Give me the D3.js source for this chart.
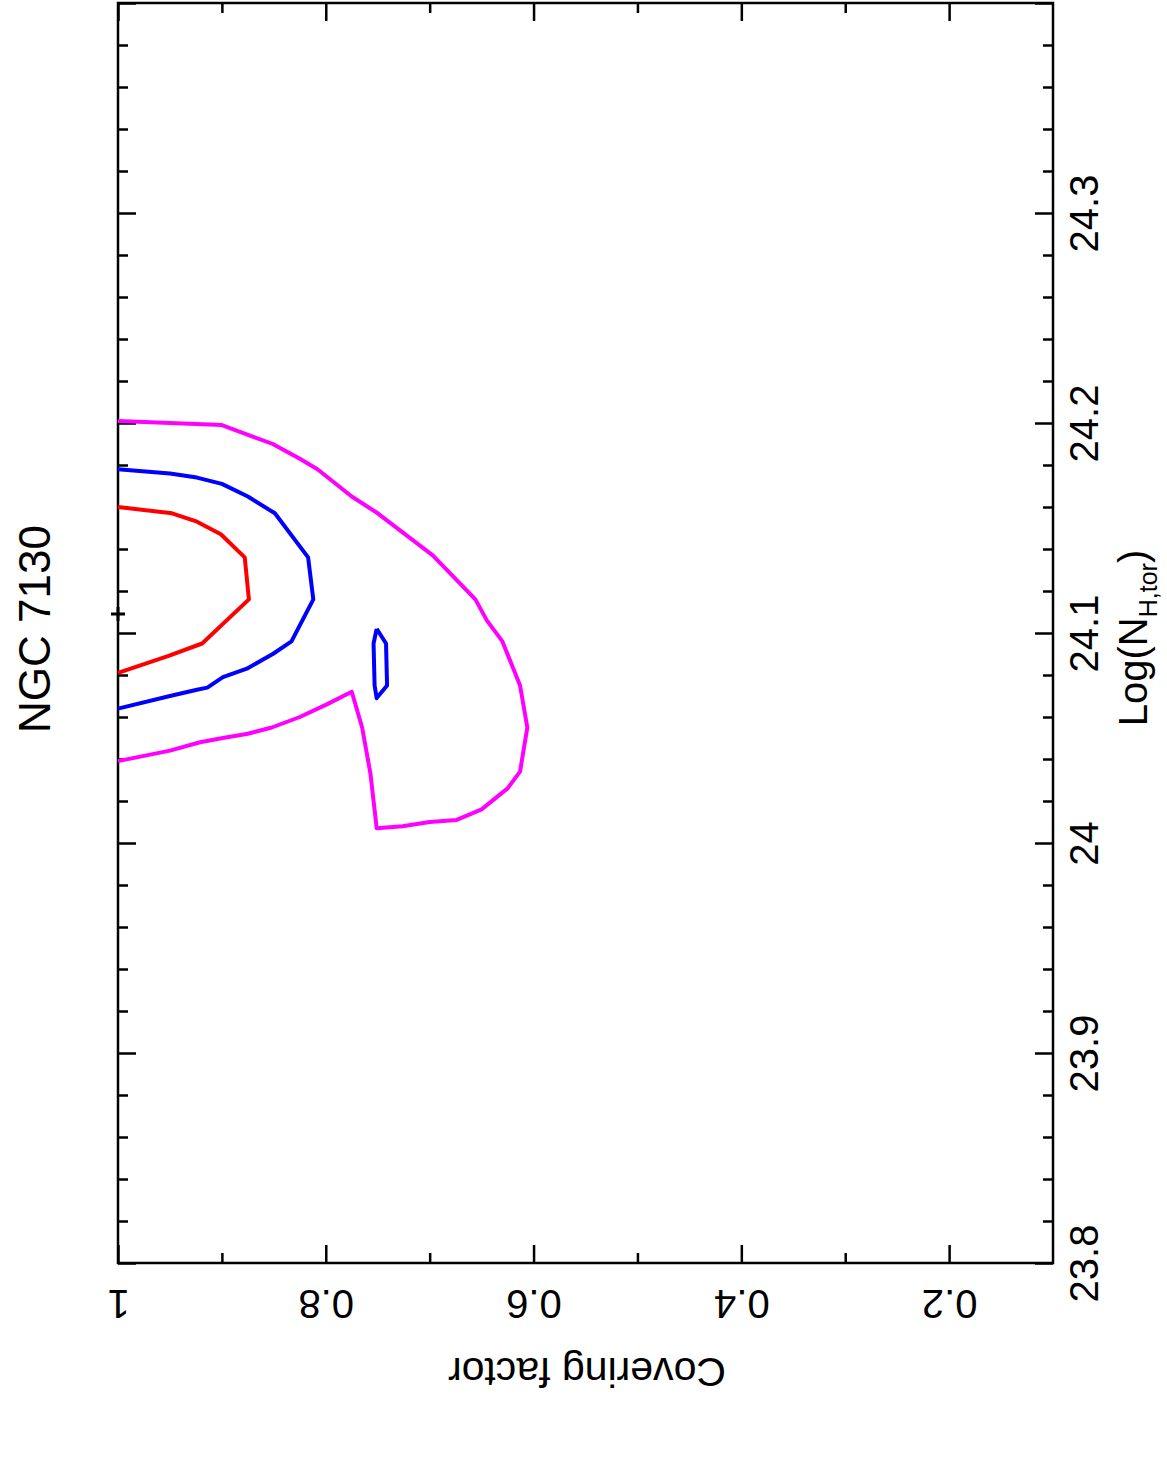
<!doctype html>
<html>
<head>
	<meta charset="UTF-8">
	<title>NGC 7130 contours</title>
	<script src="https://d3js.org/d3.v7.min.js"></script>
	<style>
		body { margin: 0; background: #fff; }
		text { font-family: "Liberation Sans", Arial, Helvetica, sans-serif; fill: #000; }
	</style>
</head>
<body>
<script>
	// Contour levels, points are [covering factor, log NH]
	var redContour = [
		[1.000, 24.160], [0.948, 24.157], [0.924, 24.153], [0.901, 24.147], [0.878, 24.136],
		[0.874, 24.116], [0.919, 24.095], [0.952, 24.089], [1.000, 24.081]
	];
	var blueContour = [
		[1.000, 24.178], [0.950, 24.176], [0.924, 24.174], [0.900, 24.171], [0.875, 24.165],
		[0.849, 24.157], [0.817, 24.136], [0.812, 24.116], [0.833, 24.096], [0.851, 24.090],
		[0.876, 24.083], [0.899, 24.079], [0.914, 24.074], [0.924, 24.073], [0.950, 24.070],
		[1.000, 24.064]
	];
	var blueIsland = [
		[0.751, 24.102], [0.742, 24.095], [0.741, 24.075], [0.751, 24.069], [0.753, 24.075],
		[0.754, 24.095], [0.751, 24.102]
	];
	var magentaContour = [
		[1.000, 24.201], [0.900, 24.199], [0.851, 24.190], [0.825, 24.183], [0.808, 24.178],
		[0.775, 24.165], [0.750, 24.157], [0.697, 24.137], [0.656, 24.116], [0.645, 24.106],
		[0.630, 24.096], [0.613, 24.075], [0.606, 24.055], [0.613, 24.034], [0.625, 24.026],
		[0.650, 24.016], [0.674, 24.011], [0.700, 24.010], [0.726, 24.008], [0.751, 24.007],
		[0.757, 24.033], [0.765, 24.055], [0.775, 24.072], [0.799, 24.066], [0.825, 24.060],
		[0.852, 24.055], [0.875, 24.052], [0.899, 24.050], [0.921, 24.048], [0.950, 24.044],
		[1.000, 24.039]
	];
	var bestFit = [1.0, 24.109];

	var covMajor = [1, 0.8, 0.6, 0.4, 0.2];
	var covMinor = [0.9, 0.7, 0.5, 0.3];
	var nhMajor = [23.8, 23.9, 24.0, 24.1, 24.2, 24.3, 24.4];
	var nhLabels = [23.8, 23.9, 24.0, 24.1, 24.2, 24.3];
	var nhMinor = [23.82, 23.84, 23.86, 23.88, 23.92, 23.94, 23.96, 23.98,
		24.02, 24.04, 24.06, 24.08, 24.12, 24.14, 24.16, 24.18,
		24.22, 24.24, 24.26, 24.28, 24.32, 24.34, 24.36, 24.38];

	// plot box (screen pixels)
	var boxL = 118, boxR = 1053, boxT = 3, boxB = 1263;
	var fontSize = 40;

	var svg = d3.select("body").append("svg")
		.attr("width", 1167)
		.attr("height", 1459);

	var x = d3.scaleLinear().domain([1, 0.1]).range([boxL, boxR]);
	var y = d3.scaleLinear().domain([23.8, 24.4]).range([boxB, boxT]);

	var fmt = function(d) { return String(+d.toFixed(2)); };

	function styleAxis(g) {
		g.select(".domain").remove();
		g.selectAll("line").attr("stroke", "#000").attr("stroke-width", 2.5);
	}

	// bottom axis (covering factor), labels upside down
	var bottomMajor = svg.append("g")
		.attr("transform", "translate(0," + boxB + ")")
		.call(d3.axisBottom(x).tickValues(covMajor).tickSize(-18).tickFormat(fmt));
	styleAxis(bottomMajor);
	bottomMajor.selectAll("text")
		.attr("y", 0).attr("dy", 0)
		.attr("transform", "translate(0,27) rotate(180)")
		.attr("text-anchor", "middle")
		.attr("font-size", fontSize);

	svg.append("g")
		.attr("transform", "translate(0," + boxB + ")")
		.call(d3.axisBottom(x).tickValues(covMinor).tickSize(-10).tickFormat(""))
		.call(styleAxis);

	// top axis mirror
	svg.append("g")
		.attr("transform", "translate(0," + boxT + ")")
		.call(d3.axisTop(x).tickValues(covMajor).tickSize(-18).tickFormat(""))
		.call(styleAxis);
	svg.append("g")
		.attr("transform", "translate(0," + boxT + ")")
		.call(d3.axisTop(x).tickValues(covMinor).tickSize(-10).tickFormat(""))
		.call(styleAxis);

	// right axis (log NH), labels reading upward
	var rightMajor = svg.append("g")
		.attr("transform", "translate(" + boxR + ",0)")
		.call(d3.axisRight(y).tickValues(nhMajor).tickSize(-18)
			.tickFormat(function(d) { return nhLabels.indexOf(d) >= 0 ? fmt(d) : ""; }));
	styleAxis(rightMajor);
	rightMajor.selectAll("text")
		.attr("x", 0).attr("dy", 0)
		.attr("transform", "translate(45,0) rotate(-90)")
		.attr("text-anchor", "middle")
		.attr("font-size", fontSize);

	svg.append("g")
		.attr("transform", "translate(" + boxR + ",0)")
		.call(d3.axisRight(y).tickValues(nhMinor).tickSize(-10).tickFormat(""))
		.call(styleAxis);

	// left axis mirror
	svg.append("g")
		.attr("transform", "translate(" + boxL + ",0)")
		.call(d3.axisLeft(y).tickValues(nhMajor).tickSize(-18).tickFormat(""))
		.call(styleAxis);
	svg.append("g")
		.attr("transform", "translate(" + boxL + ",0)")
		.call(d3.axisLeft(y).tickValues(nhMinor).tickSize(-10).tickFormat(""))
		.call(styleAxis);

	// frame
	svg.append("rect")
		.attr("x", boxL).attr("y", boxT)
		.attr("width", boxR - boxL).attr("height", boxB - boxT)
		.attr("fill", "none")
		.attr("stroke", "#000")
		.attr("stroke-width", 2.5);

	// contours
	var line = d3.line()
		.x(function(d) { return x(d[0]); })
		.y(function(d) { return y(d[1]); });

	var contours = [
		{ pts: magentaContour, color: "#ff00ff" },
		{ pts: blueContour, color: "#0000ff" },
		{ pts: blueIsland, color: "#0000ff" },
		{ pts: redContour, color: "#ff0000" }
	];

	svg.append("g").selectAll("path")
		.data(contours)
		.enter()
		.append("path")
		.attr("d", function(d) { return line(d.pts); })
		.attr("fill", "none")
		.attr("stroke", function(d) { return d.color; })
		.attr("stroke-width", 4)
		.attr("stroke-linejoin", "round");

	// best fit marker
	var bx = x(bestFit[0]), by = y(bestFit[1]);
	svg.append("path")
		.attr("d", "M" + (bx - 7) + "," + by + "H" + (bx + 7) + "M" + bx + "," + (by - 7) + "V" + (by + 7))
		.attr("stroke", "#000")
		.attr("stroke-width", 3);

	// title, rotated
	svg.append("text")
		.attr("transform", "translate(50," + ((boxT + boxB) / 2 - 4) + ") rotate(-90)")
		.attr("text-anchor", "middle")
		.attr("font-size", 44)
		.text("NGC 7130");

	// y axis title (log NH)
	var nhTitle = svg.append("text")
		.attr("transform", "translate(1147,638) rotate(-90)")
		.attr("text-anchor", "middle")
		.attr("font-size", fontSize);
	nhTitle.append("tspan").text("Log(N");
	nhTitle.append("tspan").attr("font-size", 25).attr("dy", 10).text("H,tor");
	nhTitle.append("tspan").attr("dy", -10).text(")");

	// x axis title (covering factor), upside down
	svg.append("text")
		.attr("transform", "translate(587,1358) rotate(180)")
		.attr("text-anchor", "middle")
		.attr("font-size", 41)
		.text("Covering factor");
</script>
</body>
</html>
